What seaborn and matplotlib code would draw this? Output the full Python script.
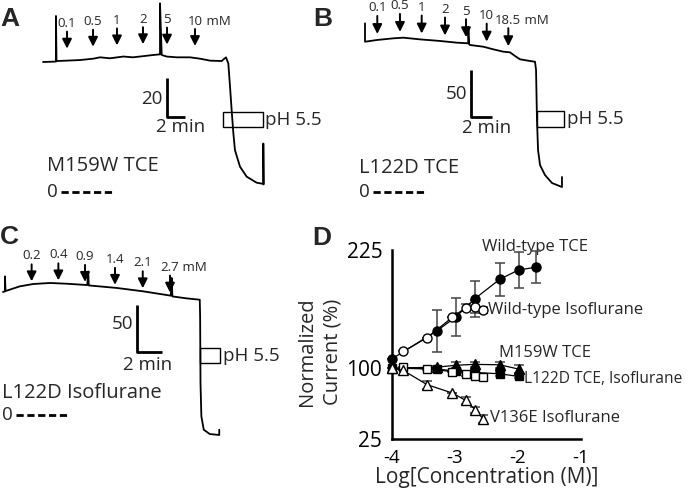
import matplotlib
matplotlib.use("Agg")
import numpy as np
import pandas as pd
import matplotlib.pyplot as plt
import seaborn as sns
from matplotlib.patches import Rectangle

# ---------------- data ----------------
# Panel A: M159W TCE trace (time in min, current in scale-bar units; baseline = 0)
trace_a_time = [0.0, 1.33, 1.44, 1.44, 1.50, 2.63, 4.11, 5.59, 6.33, 7.44, 8.93, 10.0,
                11.15, 12.26, 12.93, 13.0, 13.0, 13.19, 13.74, 14.85, 16.33, 17.44,
                18.56, 19.85, 20.33, 20.59, 20.78, 20.96, 21.15, 21.33, 21.89, 22.63,
                23.74, 24.48, 24.48, 24.52]
trace_a_current = [0.0, 0.2, 0.2, 23.6, 0.5, 0.7, 1.0, 1.7, 2.4, 1.9, 2.8, 2.4,
                   3.0, 3.6, 3.9, 3.9, 30.1, 3.6, 2.8, 2.4, 2.4, 1.7,
                   0.7, 0.5, 2.4, -0.7, -12.6, -24.6, -36.5, -45.2, -53.7, -58.8,
                   -61.9, -62.5, -41.8, -62.8]
conc_a_labels = ["0.1", "0.5", "1", "2", "5", "10"]
conc_a_times = [2.67, 5.56, 8.22, 11.11, 13.78, 16.89]

# Panel B: L122D TCE trace
trace_b_time = [0.0, 0.0, 0.02, 1.11, 2.70, 3.65, 5.24, 7.14, 8.73, 9.84, 9.84, 9.90,
                10.0, 11.27, 12.22, 13.17, 13.81, 14.29, 14.76, 15.71, 16.19, 16.29,
                16.38, 16.48, 16.67, 17.14, 17.81, 18.76, 18.76]
trace_b_current = [19.9, 0.3, 0.3, 2.1, 3.9, 4.6, 2.8, 1.1, -0.7, -1.4, 16.3, -2.0,
                   -3.2, -5.0, -7.8, -10.3, -11.0, -14.9, -18.4, -20.2, -21.0, -29.8,
                   -83.0, -114.9, -130.9, -141.5, -150.0, -154.3, -143.6]
conc_b_labels = ["0.1", "0.5", "1", "2", "5", "10", "18.5"]
conc_b_times = [1.17, 3.33, 5.40, 7.62, 9.62, 11.59, 13.65]

# Panel C: L122D Isoflurane trace
trace_c_time = [0.0, 0.16, 0.16, 0.20, 1.34, 2.42, 3.76, 5.10, 6.74, 6.82, 6.86, 9.10,
                11.22, 13.42, 13.50, 13.55, 14.70, 15.74, 15.77, 15.80, 15.87, 16.06,
                16.54, 17.30, 17.30]
trace_c_current = [0.0, 0.7, 16.6, 1.0, 6.0, 8.5, 9.6, 8.8, 7.4, 21.9, 7.0, 4.3,
                   0.7, -3.9, 14.9, -4.7, -6.8, -8.2, -26.0, -96.8, -132.3, -146.5,
                   -151.1, -152.1, -146.5]
conc_c_labels = ["0.2", "0.4", "0.9", "1.4", "2.1", "2.7"]
conc_c_times = [2.29, 4.43, 6.56, 8.96, 11.18, 13.36]

# Panel D: concentration-response (log M, % normalized current)
x_wt_tce = [-4.0, -3.29, -2.99, -2.69, -2.29, -1.99, -1.72]
y_wt_tce = [109.8, 139.4, 153.9, 173.2, 194.0, 203.9, 206.7]
e_wt_tce = [0, 22, 20, 19, 17.5, 19, 17]
x_wt_iso = [-3.82, -3.44, -3.04, -2.83, -2.68, -2.55]
y_wt_iso = [117.6, 132.4, 153.9, 164.0, 165.0, 161.6]
e_wt_iso = [0, 0, 0, 4, 7, 3]
x_m159w_tce = [-4.0, -3.29, -2.99, -2.69, -2.29, -1.99]
y_m159w_tce = [100, 101, 103, 104, 103.5, 99]
e_m159w_tce = [0, 1.5, 3, 3, 3, 4]
x_l122d_tce = [-4.0, -3.29, -2.99, -2.69, -2.29, -1.99]
y_l122d_tce = [100, 99, 97, 95.4, 94, 91.2]
e_l122d_tce = [0, 1.5, 2, 2, 2, 2]
x_l122d_iso = [-3.82, -3.44, -3.04, -2.83, -2.68, -2.55]
y_l122d_iso = [101, 99, 96.4, 94, 92, 90.1]
e_l122d_iso = [0, 1, 1, 2, 2, 2]
x_v136e_iso = [-4.0, -3.82, -3.44, -3.04, -2.83, -2.68, -2.55]
y_v136e_iso = [100, 97.5, 82.4, 73.6, 65.8, 56, 46]
e_v136e_iso = [0, 0, 4, 0, 3.5, 3, 4]

y_ticks = [25, 50, 75, 100, 125, 150, 175, 200, 225]
y_tick_labels = ["25", "", "", "100", "", "", "", "", "225"]
x_ticks = [-4, -3, -2, -1]
x_tick_labels = ["-4", "-3", "-2", "-1"]

# ---------------- style ----------------
sns.set_style("white")
plt.rcParams["font.family"] = ["Open Sans", "DejaVu Sans"]
FONT = "Open Sans"
TXT = 13.5

W, H = 690, 493
fig = plt.figure(figsize=(W / 100, H / 100), dpi=100)

# overlay axes in pixel coordinates for layout text
lay = fig.add_axes([0, 0, 1, 1])
lay.set_xlim(0, W)
lay.set_ylim(H, 0)
lay.axis("off")


def trace_axes(box, origin, px_min, px_unit):
    x0, y0, w, h = box
    ax = fig.add_axes([x0 / W, 1 - (y0 + h) / H, w / W, h / H])
    ox, oy = origin
    ax.set_xlim((x0 - ox) / px_min, (x0 + w - ox) / px_min)
    ax.set_ylim((oy - (y0 + h)) / px_unit, (oy - y0) / px_unit)
    ax.axis("off")
    return ax


def monotone(t):
    out, last = [], -1e9
    for v in t:
        last = max(last, v)
        out.append(last)
    return out


def draw_panel(ax, t, cur, labels, times, gap_px, len_px, px_unit, label_off_px):
    df = pd.DataFrame({"t": t, "i": cur})
    sns.lineplot(data=df, x="t", y="i", sort=False, estimator=None, color="black",
                 lw=1.3, ax=ax)
    ax.set_xlabel("")
    ax.set_ylabel("")
    ax.axis("off")
    renderer = fig.canvas.get_renderer()
    tm = monotone(t)
    for k, (lab, tt) in enumerate(zip(labels, times)):
        base = np.interp(tt, tm, cur)
        head = base + gap_px / px_unit
        tail = head + len_px / px_unit
        ax.annotate("", xy=(tt, head), xytext=(tt, tail),
                    arrowprops=dict(arrowstyle="-|>", lw=1.4, color="black",
                                    mutation_scale=14, shrinkA=0, shrinkB=0))
        txt = ax.annotate(lab, xy=(tt, tail), xytext=(0, label_off_px * 0.72),
                          textcoords="offset points", ha="center", va="center",
                          fontsize=9.5, family=FONT)
        if k == len(labels) - 1:
            bb = txt.get_window_extent(renderer)
            half = bb.width / 2 * 0.72
            ax.annotate(" mM", xy=(tt, tail),
                        xytext=(half, label_off_px * 0.72), textcoords="offset points",
                        ha="left", va="center", fontsize=9.5, family=FONT)


def scale_bar(ax, t0, i0, dt, di):
    ax.plot([t0, t0, t0 + dt], [i0 + di, i0, i0], color="black", lw=2.0,
            solid_capstyle="butt")


def zero_mark(x, y):
    lay.text(x, y, "0", ha="left", va="center", fontsize=TXT, family=FONT)
    lay.plot([x + 14, x + 66], [y, y], color="black", lw=2.0, dashes=(2.6, 1.3))


# ---------- Panel A ----------
axA = trace_axes((0, 0, 345, 245), (43, 62), 9.0, 1.95)
draw_panel(axA, trace_a_time, trace_a_current, conc_a_labels, conc_a_times,
           gap_px=12, len_px=17, px_unit=1.95, label_off_px=8)
scale_bar(axA, (167 - 43) / 9.0, (62 - 117) / 1.95, 2, 20)
lay.text(163, 99, "20", ha="right", va="center", fontsize=TXT, family=FONT)
lay.text(181, 127, "2 min", ha="center", va="center", fontsize=TXT, family=FONT)
lay.add_patch(Rectangle((223, 112), 40, 15, fill=False, ec="black", lw=1.0))
lay.text(265, 120, "pH 5.5", ha="left", va="center", fontsize=TXT, family=FONT)
lay.text(47, 166, "M159W TCE", ha="left", va="center", fontsize=14.5, family=FONT)
zero_mark(47, 192)
lay.text(0, 19, "A", ha="left", va="center", fontsize=19, weight="bold",
         family="Liberation Sans")

# ---------- Panel B ----------
axB = trace_axes((345, 0, 345, 245), (365, 42), 10.5, 0.94)
draw_panel(axB, trace_b_time, trace_b_current, conc_b_labels, conc_b_times,
           gap_px=6, len_px=18, px_unit=0.94, label_off_px=8)
scale_bar(axB, (471 - 365) / 10.5, (42 - 117) / 0.94, 2, 50)
lay.text(467, 94, "50", ha="right", va="center", fontsize=TXT, family=FONT)
lay.text(487, 128, "2 min", ha="center", va="center", fontsize=TXT, family=FONT)
lay.add_patch(Rectangle((537, 111), 27, 16, fill=False, ec="black", lw=1.0))
lay.text(567, 119, "pH 5.5", ha="left", va="center", fontsize=TXT, family=FONT)
lay.text(359, 168, "L122D TCE", ha="left", va="center", fontsize=14.5, family=FONT)
zero_mark(359, 192)
lay.text(313, 19, "B", ha="left", va="center", fontsize=19, weight="bold",
         family="Liberation Sans")

# ---------- Panel C ----------
axC = trace_axes((0, 245, 300, 248), (3, 292), 12.5, 0.94)
draw_panel(axC, trace_c_time, trace_c_current, conc_c_labels, conc_c_times,
           gap_px=3, len_px=17, px_unit=0.94, label_off_px=8.5)
scale_bar(axC, (137 - 3) / 12.5, (292 - 352) / 0.94, 2, 50)
lay.text(133, 324, "50", ha="right", va="center", fontsize=TXT, family=FONT)
lay.text(148, 365, "2 min", ha="center", va="center", fontsize=TXT, family=FONT)
lay.add_patch(Rectangle((200, 348), 20, 15, fill=False, ec="black", lw=1.0))
lay.text(223, 356, "pH 5.5", ha="left", va="center", fontsize=TXT, family=FONT)
lay.text(2, 393, "L122D Isoflurane", ha="left", va="center", fontsize=14.5,
         family=FONT)
zero_mark(2, 415)
lay.text(0, 237, "C", ha="left", va="center", fontsize=19, weight="bold",
         family="Liberation Sans")
lay.text(312, 238, "D", ha="left", va="center", fontsize=19, weight="bold",
         family="Liberation Sans")

# ---------- Panel D ----------
axD = fig.add_axes([392 / W, 1 - 439 / H, 189 / W, 189 / H])
series = [
    (x_wt_tce, y_wt_tce, e_wt_tce, "o", "black", 6.5),
    (x_wt_iso, y_wt_iso, e_wt_iso, "o", "white", 6.5),
    (x_m159w_tce, y_m159w_tce, e_m159w_tce, "^", "black", 6.5),
    (x_l122d_tce, y_l122d_tce, e_l122d_tce, "s", "black", 6),
    (x_l122d_iso, y_l122d_iso, e_l122d_iso, "s", "white", 6),
    (x_v136e_iso, y_v136e_iso, e_v136e_iso, "^", "white", 6.5),
]
for xs, ys, es, mk, fc, ms in series:
    axD.errorbar(xs, ys, yerr=es, fmt="none", ecolor="#444444", elinewidth=1.1,
                 capsize=3.5, capthick=1.1, zorder=2, clip_on=False)
    df = pd.DataFrame({"x": xs, "y": ys})
    sns.lineplot(data=df, x="x", y="y", color="black", lw=0.9, marker=mk,
                 markersize=ms, markerfacecolor=fc, markeredgecolor="black",
                 markeredgewidth=1.0, ax=axD, zorder=3, clip_on=False)

axD.set_xlim(-4, -1)
axD.set_ylim(25, 225)
axD.set_yticks(y_ticks)
axD.set_yticklabels(y_tick_labels, fontsize=15, family=FONT)
axD.set_xticks(x_ticks)
axD.set_xticklabels(x_tick_labels, fontsize=13.5, family=FONT)
for s in ["top", "right"]:
    axD.spines[s].set_visible(False)
for s in ["left", "bottom"]:
    axD.spines[s].set_linewidth(1.8)
    axD.spines[s].set_color("black")
axD.tick_params(axis="both", direction="out", length=6, width=1.8, color="black",
                pad=1, labelcolor="black")
axD.set_xlabel("Log[Concentration (M)]", fontsize=15, family=FONT, labelpad=0)
axD.set_ylabel("")
axD.patch.set_alpha(0)
lay.text(320, 352, "Normalized\nCurrent (%)", rotation=90, ha="center", va="center",
         fontsize=14.5, family=FONT, linespacing=1.35)

lay.text(535, 247, "Wild-type TCE", ha="center", va="center", fontsize=12, family=FONT)
lay.text(488, 310, "Wild-type Isoflurane", ha="left", va="center", fontsize=12,
         family=FONT)
lay.text(499, 353, "M159W TCE", ha="left", va="center", fontsize=12, family=FONT)
lay.text(524, 379, "L122D TCE, Isoflurane", ha="left", va="center", fontsize=11.2,
         family=FONT)
lay.text(490, 418, "V136E Isoflurane", ha="left", va="center", fontsize=12,
         family=FONT)

fig.savefig("out.png", dpi=100)
